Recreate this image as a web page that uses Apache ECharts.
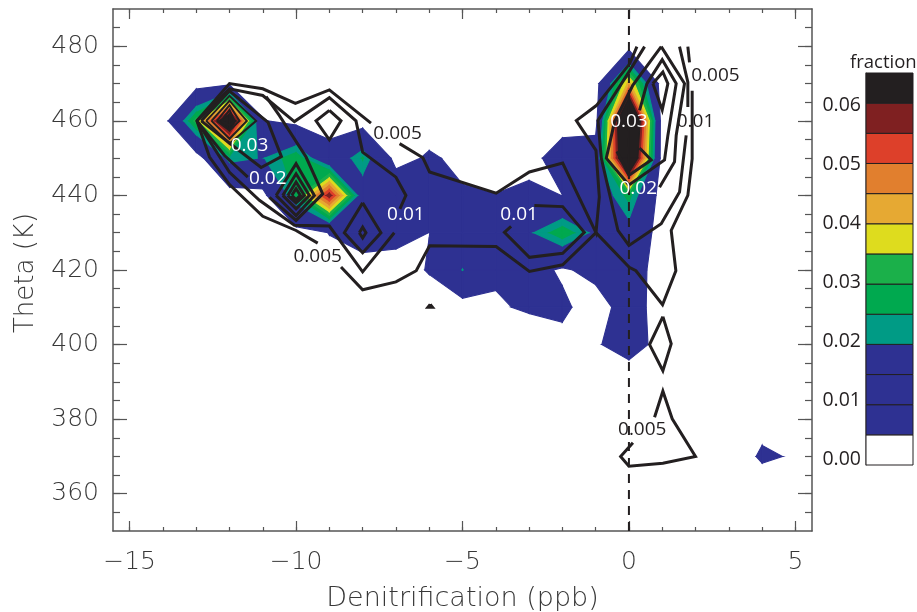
<!DOCTYPE html>
<html>
<head>
<meta charset="utf-8">
<style>html,body{margin:0;padding:0;background:#fff}#c{width:917px;height:612px}</style>
<script src="https://cdn.jsdelivr.net/npm/echarts@6/dist/echarts.min.js"></script>
</head>
<body>
<div id="c"></div>
<script>
// ---- axes ----
const xMajorTicks = [-15, -10, -5, 0, 5];
const xMinorTicks = [-15,-14,-13,-12,-11,-10,-9,-8,-7,-6,-5,-4,-3,-2,-1,0,1,2,3,4,5];
const yMajorTicks = [360, 380, 400, 420, 440, 460, 480];
const yMinorTicks = [355,360,365,370,375,380,385,390,395,400,405,410,415,420,425,430,435,440,445,450,455,460,465,470,475,480,485];
const colorbarTicks = [0, 0.01, 0.02, 0.03, 0.04, 0.05, 0.06];

// ---- filled field: fraction at each denitrification (columns) and theta (rows) ----
const denitrification = [-15,-14,-13,-12,-11,-10,-9,-8,-7,-6,-5,-4,-3,-2,-1,0,1,2,3,4,5];
const theta = [480,470,460,450,440,430,420,410,400,390,380,370,360];
const f480 = [0,0,0,0,0,0,0,0,0,0,0,0,0,0,0,.001,0,0,0,0,0];
const f470 = [0,0,.0005,.0026,0,0,0,0,0,0,0,0,0,0,.001,.042,0,0,0,0,0];
const f460 = [0,0,.032,.073,.0055,.002,.0005,0,0,0,0,0,0,0,.0012,.091,0,0,0,0,0];
const f450 = [0,0,0,.0225,.0195,.029,.0095,.0255,.0014,.0063,.0027,.001,.001,.011,.011,.082,0,0,0,0,0];
const f440 = [0,0,0,0,.002,.026,.058,.013,.014,.012,.006,.0052,.0077,.0049,.012,.027,0,0,0,0,0];
const f430 = [0,0,0,0,0,.001,.0052,.009,.0085,.0049,.011,.012,.0185,.029,.0175,.016,0,0,0,0,0];
const f420 = [0,0,0,0,0,0,.002,.0015,.0005,.0057,.0201,.0061,.0092,.0035,.0083,.0109,0,0,0,0,0];
const f410 = [0,0,0,0,0,0,0,0,0,0,.0002,.0041,.006,.007,0,.0104,0,0,0,0,0];
const f400 = [0,0,0,0,0,0,0,0,0,0,0,0,0,.002,.0042,.0085,.0024,0,0,0,0];
const f390 = [0,0,0,0,0,0,0,0,0,0,0,0,0,0,0,0,0,0,0,0,0];
const f380 = [0,0,0,0,0,0,0,0,0,0,0,0,0,0,0,0,0,0,0,.0024,0];
const f370 = [0,0,0,0,0,0,0,0,0,0,0,0,0,0,0,0,0,0,0,.0061,.0043];
const f360 = [0,0,0,0,0,0,0,0,0,0,0,0,0,0,0,0,0,0,0,0,0];
const field = [f480,f470,f460,f450,f440,f430,f420,f410,f400,f390,f380,f370,f360];

// ---- colour classes (lower bound of each class) ----
const classLevels = [.005,.01,.015,.02,.025,.03,.035,.04,.045,.05,.055,.06];
const classColors = ['#2e3192','#2e3192','#2e3192','#009b85','#00a94f','#1bb04a','#dedc1e','#e6a933','#e17f2e','#dd402a','#7f2021','#231f20'];
const barEdges = [0,.005,.01,.015,.02,.025,.03,.035,.04,.045,.05,.055,.06,.065];
const barColors = ['#ffffff'].concat(classColors);

// ---- contour lines: [denitrification, theta] ----
const c005UpperLeft = [[-7.75,459.4],[-9,468.3],[-10.02,464.7],[-11,468.6],[-12,470],[-12.98,460],[-12.6,450.3],[-12,442.9],[-11,434.4],[-10,430.6],[-9.35,427.2]];
const c005Lower = [[-8.65,420.8],[-8,414.7],[-7,416.8],[-6.39,419.8],[-5.99,426.5],[-3.99,426.3],[-2.99,419.6],[-1.99,421.4],[-.99,430],[.01,420.7],[.21,419.8],[1.01,410.7],[1.41,419.8],[1.27,430.6],[1.77,440],[1.9,449.8],[1.9,468.1]];
const c005TopEnd = [[1.82,475.7],[1.77,479.9]];
const c005Middle = [[-6.89,453.9],[-6.19,450.1],[-5.99,446.3],[-3.99,440.6],[-2.99,446.3],[-1.99,448.7],[-.99,430],[-.89,439.6],[-.99,452.1],[-1.58,460.1],[-.98,464.1],[.02,475.3],[.24,479.9]];
const c005Diamond400 = [[1.02,407.5],[1.27,400.2],[1.02,393],[.62,400],[1.02,407.5]];
const c005Bottom = [[.77,380.5],[1.02,387.5],[1.3,380.1],[2,370],[1.02,368.2],[0,367.4],[-.25,370],[.12,373.7]];
const c005Speck = [[-5.97,410.8],[-5.9,410],[-6.04,410],[-5.97,410.8]];
const c010Upper = [[-12.98,460],[-12,468.6],[-11,466.8],[-10.05,459.8],[-9,466.2],[-8.2,460],[-8,451.6],[-7,444.9],[-6.7,440],[-6.88,436.4]];
const c010Lower = [[-12.98,460],[-12,446.2],[-11.1,438.7],[-10.05,432],[-9,431.8],[-8,419.5],[-7.05,430]];
const c010Loop = [[-3.54,431.7],[-3.74,430.1],[-2.99,423.4],[-1.99,424.5],[-1.34,430.1],[-1.99,437],[-2.84,437.3]];
const c010Cone = [[.47,479.9],[.02,473.4],[-.93,460.1],[-.83,450],[-.33,430.6],[0,426.6],[.97,432.4],[1.52,440.9],[1.72,456.1]];
const c010ConeTop = [[1.77,463.7],[1.77,470.4],[1.52,479.9]];
const c015Left = [[-12.98,460],[-12.15,450.7],[-11.45,444.9]];
const c015Right = [[-10.8,439.5],[-10,433.3],[-9.2,440.4],[-9.7,450.3],[-10.5,461.4],[-10.9,466.5]];
const c015Peak9 = [[-9,462.8],[-8.65,460],[-9,454.9],[-9.4,460],[-9,462.8]];
const c015Peak8 = [[-8,438],[-7.45,430],[-8,424.6],[-8.55,430],[-8,438]];
const c020PeakA = [[-12.85,460],[-12,468],[-10.84,459.6],[-10.44,450.4],[-11.05,447.5],[-11.85,453],[-12.85,460]];
const d1A = [[-12.7,460],[-12,466.7],[-11.2,460],[-12,453.9],[-12.7,460]];
const d2A = [[-12.54,460],[-12,465.4],[-11.48,460],[-12,455.2],[-12.54,460]];
const d3A = [[-12.38,460],[-12,464.2],[-11.7,460],[-12,457.4],[-12.38,460]];
const d4A = [[-12.25,460],[-12,462.9],[-11.85,460],[-12,458.8],[-12.25,460]];
const d1B = [[-10.6,440],[-10,448.5],[-9.45,440],[-10,434.6],[-10.6,440]];
const d2B = [[-10.4,440],[-10,445.8],[-9.6,440],[-10,436.4],[-10.4,440]];
const d3B = [[-10.25,440],[-10,443.6],[-9.75,440],[-10,438],[-10.25,440]];
const d4B = [[-10.13,440],[-10,441.8],[-9.87,440],[-10,438.9],[-10.13,440]];
const d1C = [[-8.1,430],[-8,431.5],[-7.9,430],[-8,428.6],[-8.1,430]];
const coneC = [[.97,479.9],[.12,469.6],[-.43,459.8],[-.68,450],[0,442.8],[1.07,449.5],[1.17,456.1],[1.42,470],[1,476.4],[.54,470],[.32,462.8]];
const coneD = [[.97,479.9],[1.67,470],[1.42,456.1],[1.37,449],[.92,442.2]];
const coneE = [[-.36,451.8],[0,445.4],[.67,449.5],[.32,452.7]];
const coneF = [[.72,470],[1.02,473.1],[1.17,470],[1,462.9],[.72,470]];
const contourLines = [c005UpperLeft,c005Lower,c005TopEnd,c005Middle,c005Diamond400,c005Bottom,c005Speck,
  c010Upper,c010Lower,c010Loop,c010Cone,c010ConeTop,c015Left,c015Right,c015Peak9,c015Peak8,c020PeakA,
  d1B,d2B,d3B,d4B,d1C,coneC,coneD,coneE,coneF];
const fineLines = [d1A,d2A,d3A,d4A];

// ---- contour labels: [denitrification, theta, text] ----
const blackLabels = [[-9.35,423.6,'0.005'],[-6.95,456.6,'0.005'],[2.6,472.2,'0.005'],[2,459.9,'0.01'],[.4,377.2,'0.005']];
const whiteLabels = [[-11.4,453.4,'0.03'],[-10.85,444.6,'0.02'],[-6.7,434.9,'0.01'],[-3.3,434.9,'0.01'],[0,459.9,'0.03'],[.28,441.9,'0.02']];

const AXIS = '#555555', TEXT = '#383838', INK = '#231f20';
const HERSHEY = 'DejaVu Sans';

// split a quad into convex pieces; at a saddle the low corners stay connected
function pieces(a,b,c,d,L){
  const A=a[2]>=L,B=b[2]>=L,C=c[2]>=L,D=d[2]>=L;
  if(A&&C&&!B&&!D) return [[a,b,d],[c,d,b]];
  if(B&&D&&!A&&!C) return [[b,c,a],[d,a,c]];
  return [[a,b,c,d]];
}
function clipAbove(poly,L){
  const out=[];
  for(let i=0;i<poly.length;i++){
    const p=poly[i],q=poly[(i+1)%poly.length];
    const pi=p[2]>=L,qi=q[2]>=L;
    if(pi) out.push(p);
    if(pi!==qi){
      const t=(L-p[2])/(q[2]-p[2]);
      out.push([p[0]+t*(q[0]-p[0]),p[1]+t*(q[1]-p[1]),L]);
    }
  }
  return out;
}
function renderField(params,api){
  const children=[];
  classLevels.forEach((L,k)=>{
    if(k>0 && classColors[k]===classColors[k-1]) return;
    for(let r=0;r<theta.length-1;r++){
      for(let c=0;c<denitrification.length-1;c++){
        const x0=denitrification[c],x1=denitrification[c+1],y0=theta[r],y1=theta[r+1];
        const a=[x0,y0,field[r][c]],b=[x1,y0,field[r][c+1]],cc=[x1,y1,field[r+1][c+1]],d=[x0,y1,field[r+1][c]];
        if(Math.max(a[2],b[2],cc[2],d[2])<L) continue;
        pieces(a,b,cc,d,L).forEach(poly=>{
          const cl=clipAbove(poly,L);
          if(cl.length<3) return;
          children.push({type:'polygon',shape:{points:cl.map(p=>api.coord([p[0],p[1]]))},
            style:{fill:classColors[k],stroke:classColors[k],lineWidth:1.1},silent:true});
        });
      }
    }
  });
  return {type:'group',children};
}
function renderBar(params,api){
  const i=api.value(0);
  const p0=api.coord([0,barEdges[i]]),p1=api.coord([1,barEdges[i+1]]);
  return {type:'rect',shape:{x:p0[0],y:p1[1],width:p1[0]-p0[0],height:p0[1]-p1[1]},
    style:{fill:barColors[i],stroke:INK,lineWidth:1}};
}

function frameAxis(dim,pos,grid,ticks,len,labels,line){
  const horizontal=dim==='x';
  const o={type:'value',gridIndex:grid,position:pos,
    min:horizontal?-15.5:350,max:horizontal?5.5:490,
    splitLine:{show:false},
    axisLine:{show:line,onZero:false,lineStyle:{color:AXIS,width:1.5}},
    axisTick:{show:true,inside:true,length:len,customValues:ticks,lineStyle:{color:AXIS,width:1.2}},
    axisLabel:{show:false}};
  if(labels){
    o.axisLabel={show:true,customValues:ticks,margin:horizontal?19:14,
      fontFamily:HERSHEY,fontWeight:200,fontSize:25,color:TEXT,padding:horizontal?0:[6,0,0,0],
      formatter:v=>v<0?'\u2212'+Math.abs(v):String(v)};
  }
  return o;
}

const xAxes=[
  Object.assign(frameAxis('x','bottom',0,xMajorTicks,10,true,true),{name:'Denitrification (ppb)',nameLocation:'middle',nameGap:54,
    nameTextStyle:{fontFamily:HERSHEY,fontWeight:200,fontSize:27,color:TEXT}}),
  frameAxis('x','top',0,xMajorTicks,10,false,true),
  frameAxis('x','bottom',1,xMinorTicks,4,false,false),
  frameAxis('x','top',1,xMinorTicks,4,false,false),
  {type:'value',gridIndex:2,min:0,max:1,show:false},
  {type:'value',gridIndex:3,min:0,max:1,show:false}
];
const yAxes=[
  Object.assign(frameAxis('y','left',0,yMajorTicks,14,true,true),{name:'Theta (K)',nameLocation:'middle',nameGap:74,
    nameTextStyle:{fontFamily:HERSHEY,fontWeight:200,fontSize:26,color:TEXT,padding:[0,6,0,0]}}),
  frameAxis('y','right',0,yMajorTicks,14,false,true),
  frameAxis('y','left',1,yMinorTicks,7,false,false),
  frameAxis('y','right',1,yMinorTicks,7,false,false),
  {type:'value',gridIndex:2,min:0,max:.065,position:'left',splitLine:{show:false},
    axisLine:{show:true,lineStyle:{color:'#8a8a8a',width:1.5}},axisTick:{show:false},axisLabel:{show:false}},
  {type:'value',gridIndex:3,min:-.00102,max:.06542,position:'left',splitLine:{show:false},
    axisLine:{show:false},axisTick:{show:false},
    axisLabel:{customValues:colorbarTicks,formatter:v=>v.toFixed(2),margin:5,fontFamily:'Open Sans',fontSize:19.5,color:INK}}
];

const series=[
  {type:'custom',xAxisIndex:0,yAxisIndex:0,coordinateSystem:'cartesian2d',clip:true,silent:true,z:1,
   renderItem:renderField,data:[[0,0]],animation:false},
  {type:'line',xAxisIndex:0,yAxisIndex:0,data:[[0,350],[0,490]],showSymbol:false,silent:true,z:2,
   lineStyle:{color:INK,width:2,type:[9,7]},animation:false}
];
contourLines.forEach(line=>{
  series.push({type:'line',xAxisIndex:0,yAxisIndex:0,data:line,showSymbol:false,silent:true,z:3,
    lineStyle:{color:INK,width:3,join:'miter',miterLimit:6},animation:false});
});
fineLines.forEach(line=>{
  series.push({type:'line',xAxisIndex:0,yAxisIndex:0,data:line,showSymbol:false,silent:true,z:3,
    lineStyle:{color:INK,width:2,join:'miter',miterLimit:6},animation:false});
});
[[blackLabels,INK],[whiteLabels,'#ffffff']].forEach(([rows,col])=>{
  series.push({type:'scatter',xAxisIndex:0,yAxisIndex:0,data:rows,symbolSize:0,silent:true,z:5,animation:false,
    encode:{x:0,y:1},itemStyle:{opacity:1},
    label:{show:true,position:'inside',opacity:1,formatter:p=>p.value[2],fontFamily:'Open Sans',fontSize:19,color:col}});
});
series.push({type:'custom',xAxisIndex:4,yAxisIndex:4,coordinateSystem:'cartesian2d',silent:true,z:2,
  renderItem:renderBar,data:barColors.map((_,i)=>[i]),encode:{x:0},animation:false});

const chart=echarts.init(document.getElementById('c'),null,{renderer:'canvas'});
chart.setOption({
  animation:false,backgroundColor:'#ffffff',
  grid:[
    {left:113,right:105,top:9,bottom:81,outerBoundsMode:'none'},
    {left:113,right:105,top:9,bottom:81,outerBoundsMode:'none'},
    {left:866,right:4,top:73,bottom:147,outerBoundsMode:'none'},
    {left:866,right:4,top:73,bottom:147,outerBoundsMode:'none'}
  ],
  xAxis:xAxes,yAxis:yAxes,series,
  graphic:[{type:'text',left:850,top:53,silent:true,style:{text:'fraction',fontFamily:'Open Sans',fontSize:18.5,fill:INK}}]
});
</script>
</body>
</html>
